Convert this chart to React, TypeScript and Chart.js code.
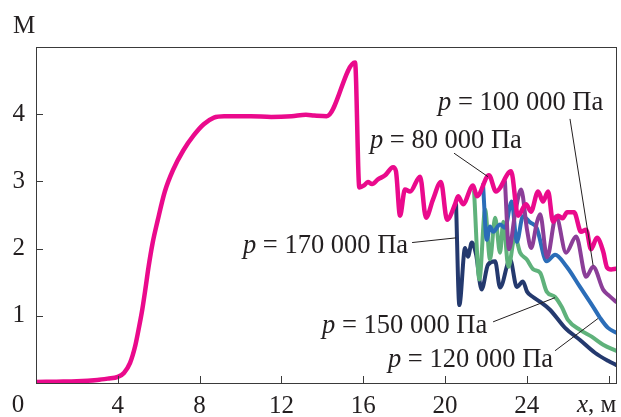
import { useEffect, useRef } from "react";
import { Chart, registerables } from "chart.js";
Chart.register(...registerables);

const xTicks = [0, 4, 8, 12, 16, 20, 24, 28];
const yTicks = [1, 2, 3, 4];

// p = 80 000 Па (main curve)
const pinkX = [0, 1, 2, 3, 3.5, 4, 4.3, 4.6, 4.85, 5.05, 5.2, 5.35, 5.5, 5.7, 5.95, 6.3, 6.7, 7.2, 7.7, 8.2, 8.7, 9.2, 10.5, 11.5, 12.5, 13.2, 13.6, 14.21, 15.6, 15.81, 16.04, 16.23, 16.43, 16.72, 17.07, 17.46, 17.6, 17.8, 18.04, 18.29, 18.78, 19.07, 19.41, 19.8, 20.1, 20.49, 20.64, 20.88, 21.37, 21.56, 22.15, 22.49, 23.23, 23.57, 23.96, 24.2, 24.55, 24.79, 25.04, 25.28, 25.53, 25.75, 25.97, 26.31, 26.65, 26.9, 27.14, 27.43, 27.73, 27.92, 28.12, 28.36];
const pinkM = [0.015, 0.02, 0.025, 0.045, 0.065, 0.09, 0.15, 0.3, 0.55, 0.85, 1.1, 1.4, 1.72, 2.08, 2.42, 2.85, 3.17, 3.46, 3.68, 3.85, 3.95, 3.97, 3.97, 3.96, 3.97, 3.99, 3.98, 3.97, 4.77, 2.91, 2.94, 2.99, 2.96, 3.03, 3.09, 3.21, 3.15, 2.49, 2.88, 2.85, 3.07, 2.46, 2.73, 2.99, 2.43, 2.66, 2.78, 2.66, 2.94, 2.78, 3.09, 2.85, 3.15, 2.49, 2.66, 2.55, 2.85, 2.7, 2.85, 2.4, 2.49, 2.45, 2.54, 2.54, 2.25, 2.28, 1.99, 2.16, 1.96, 1.72, 1.69, 1.7];

// p = 100 000 Па
const purpleX = [22.93, 23.13, 23.42, 23.72, 24.01, 24.21, 24.5, 24.65, 24.99, 25.43, 25.92, 26.41, 26.9, 27.24, 27.73, 28.02, 28.36];
const purpleM = [3.0, 1.99, 2.51, 2.88, 2.28, 2.01, 2.4, 2.51, 1.87, 2.48, 1.94, 2.18, 1.58, 1.73, 1.39, 1.3, 1.21];

// p = 120 000 Па
const blueX = [21.86, 22.04, 22.2, 22.35, 22.69, 22.93, 23.26, 23.51, 23.81, 24.16, 24.48, 24.97, 25.38, 25.95, 26.6, 27.25, 27.58, 27.97, 28.36];
const blueM = [2.95, 2.13, 2.33, 2.25, 2.36, 2.31, 2.7, 2.1, 2.48, 2.39, 2.31, 1.81, 1.91, 1.73, 1.43, 1.13, 0.97, 0.82, 0.75];

// p = 150 000 Па
const greenX = [21.42, 21.68, 21.96, 22.2, 22.45, 22.69, 22.85, 23.1, 23.42, 23.67, 23.99, 24.32, 24.65, 24.97, 25.38, 25.71, 26.01, 26.6, 27.17, 27.73, 28.36];
const greenM = [2.85, 1.54, 2.58, 1.84, 2.46, 1.94, 2.4, 1.73, 2.18, 1.94, 1.84, 1.69, 1.64, 1.36, 1.28, 1.13, 0.94, 0.79, 0.69, 0.57, 0.48];

// p = 170 000 Па
const navyX = [20.54, 20.7, 20.98, 21.12, 21.31, 21.52, 21.79, 22.1, 22.45, 22.69, 23.18, 23.51, 23.81, 24.01, 24.3, 24.64, 25.13, 25.87, 26.6, 27.33, 27.97, 28.36];
const navyM = [2.66, 1.16, 2.01, 1.88, 2.09, 1.91, 1.39, 1.76, 1.81, 1.42, 1.84, 1.43, 1.51, 1.36, 1.28, 1.21, 1.09, 0.82, 0.64, 0.45, 0.33, 0.27];

const seriesNames = ["80 000 Па", "100 000 Па", "120 000 Па", "150 000 Па", "170 000 Па"];
const seriesColors = ["#EA0A8C", "#8B3E98", "#2B6DB8", "#5FB27B", "#24396E"];

// annotation: text anchor (left, baseline) and leader line, in data units
const notes = [
  { text: "100 000 Па", tx: 19.66, ty: 4.06, x1: 26.11, y1: 3.93, x2: 27.24, y2: 1.75 },
  { text: "80 000 Па", tx: 16.33, ty: 3.49, x1: 20.44, y1: 3.42, x2: 22.1, y2: 3.07 },
  { text: "170 000 Па", tx: 10.12, ty: 1.94, x1: 18.39, y1: 2.09, x2: 20.54, y2: 2.16 },
  { text: "150 000 Па", tx: 13.99, ty: 0.75, x1: 22.35, y1: 0.91, x2: 25.38, y2: 1.27 },
  { text: "120 000 Па", tx: 17.21, ty: 0.24, x1: 25.38, y1: 0.48, x2: 27.48, y2: 0.96 },
];

const FONT = "'Liberation Serif', 'Times New Roman', serif";
const INK = "#231F20";

const zip = (xs: number[], ys: number[]) => xs.slice(0, Math.min(xs.length, ys.length)).map((v, i) => ({ x: v, y: ys[i] }));

const decor = {
  id: "decor",
  afterDatasetsDraw(chart: any) {
    const { ctx, chartArea: a, scales } = chart;
    const x = scales.x, y = scales.y;
    ctx.save();
    ctx.strokeStyle = "#3a3a3a";
    ctx.lineWidth = 1;
    ctx.strokeRect(Math.round(a.left) + 0.5, Math.round(a.top) + 0.5, Math.round(a.right - a.left), Math.round(a.bottom - a.top));
    ctx.beginPath();
    xTicks.forEach((v) => {
      if (v === 0) return;
      const px = Math.round(x.getPixelForValue(v)) + 0.5;
      ctx.moveTo(px, a.bottom);
      ctx.lineTo(px, a.bottom - 7);
    });
    yTicks.forEach((v) => {
      const py = Math.round(y.getPixelForValue(v)) + 0.5;
      ctx.moveTo(a.left, py);
      ctx.lineTo(a.left + 7, py);
    });
    ctx.stroke();

    ctx.strokeStyle = INK;
    ctx.lineWidth = 1;
    notes.forEach((n) => {
      ctx.beginPath();
      ctx.moveTo(x.getPixelForValue(n.x1), y.getPixelForValue(n.y1));
      ctx.lineTo(x.getPixelForValue(n.x2), y.getPixelForValue(n.y2));
      ctx.stroke();
    });

    ctx.fillStyle = INK;
    ctx.textBaseline = "alphabetic";
    ctx.textAlign = "left";
    notes.forEach((n) => {
      const px = x.getPixelForValue(n.tx);
      const py = y.getPixelForValue(n.ty);
      ctx.font = `italic 26.5px ${FONT}`;
      ctx.fillText("p", px, py);
      const w = ctx.measureText("p").width;
      ctx.font = `26.5px ${FONT}`;
      ctx.fillText(" = " + n.text, px + w, py);
    });

    // axis titles
    ctx.font = `25px ${FONT}`;
    ctx.fillText("M", a.left - 23, a.top - 14.5);
    const bx = a.right - 39, by = a.bottom + 28.7;
    ctx.font = `italic 25px ${FONT}`;
    ctx.fillText("x", bx, by);
    const wx = ctx.measureText("x").width;
    ctx.font = `25px ${FONT}`;
    ctx.fillText(", м", bx + wx, by);
    ctx.textAlign = "center";
    ctx.fillText("0", a.left - 18, by);
    ctx.restore();
  },
};

export default function App() {
  const ref = useRef<HTMLCanvasElement | null>(null);
  useEffect(() => {
    if (!ref.current) return;
    const all = [
      zip(pinkX, pinkM),
      zip(purpleX, purpleM),
      zip(blueX, blueM),
      zip(greenX, greenM),
      zip(navyX, navyM),
    ];
    const chart = new Chart(ref.current, {
      type: "line",
      data: {
        datasets: all.map((d, i) => ({
          label: "p = " + seriesNames[i],
          data: d,
          borderColor: seriesColors[i],
          backgroundColor: seriesColors[i],
          borderWidth: i === 0 ? 4.5 : 4,
          pointRadius: 0,
          fill: false,
          cubicInterpolationMode: "monotone" as const,
          borderCapStyle: "round" as const,
          borderJoinStyle: "round" as const,
        })),
      },
      options: {
        animation: false,
        responsive: false,
        maintainAspectRatio: false,
        layout: { padding: { top: 47, right: 5, left: 0, bottom: 0 } },
        plugins: { legend: { display: false }, tooltip: { enabled: false } },
        scales: {
          x: {
            type: "linear",
            min: 0,
            max: 28.36,
            afterBuildTicks: (s: any) => { s.ticks = xTicks.map((v) => ({ value: v })); },
            afterFit: (s: any) => { s.height = 34; },
            grid: { display: false, drawTicks: false },
            border: { display: false },
            ticks: {
              autoSkip: false,
              maxRotation: 0,
              padding: 8,
              color: INK,
              font: { family: FONT, size: 25 },
              callback: (v: any) => (v === 0 || v === 28 ? "" : String(v)),
            },
          },
          y: {
            type: "linear",
            min: 0,
            max: 5.0,
            afterBuildTicks: (s: any) => { s.ticks = yTicks.map((v) => ({ value: v })); },
            afterFit: (s: any) => { s.width = 36; },
            grid: { display: false, drawTicks: false },
            border: { display: false },
            ticks: {
              padding: 11,
              color: INK,
              font: { family: FONT, size: 25 },
              callback: (v: any) => String(v),
            },
          },
        },
      },
      plugins: [decor],
    });
    return () => chart.destroy();
  }, []);
  return (
    <div style={{ position: "fixed", left: 0, top: 0, width: 621, height: 417, background: "#fff" }}>
      <canvas ref={ref} width={621} height={417} style={{ width: 621, height: 417, display: "block" }} />
    </div>
  );
}
